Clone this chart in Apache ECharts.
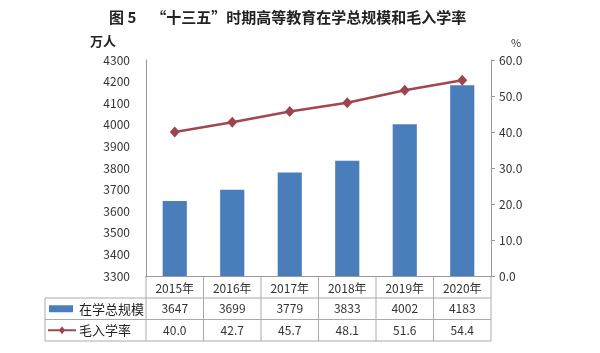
<!DOCTYPE html>
<html>
<head>
<meta charset="utf-8">
<script src="https://cdn.jsdelivr.net/npm/echarts@6/dist/echarts.min.js"></script>
<style>
  html, body { margin: 0; padding: 0; background: #fff; }
  #chart { width: 600px; height: 353px; }
</style>
</head>
<body>
<div id="chart"></div>
<script>
const years = ['2015年', '2016年', '2017年', '2018年', '2019年', '2020年']
const enrollment = [3647, 3699, 3779, 3833, 4002, 4183]
const grossRate = [40.0, 42.7, 45.7, 48.1, 51.6, 54.4]
const barName = '在学总规模'
const lineName = '毛入学率'

const barColor = '#4a7ebb'
const lineColor = '#a3474f'
const font = '"Noto Sans CJK SC", "Liberation Sans", sans-serif'

const chart = echarts.init(document.getElementById('chart'))

chart.setOption({
  animation: false,
  title: {
    text: '图 5　“十三五”时期高等教育在学总规模和毛入学率',
    left: 104,
    top: 5,
    textStyle: { fontSize: 15, fontWeight: 'bold', color: '#222', fontFamily: font }
  },
  grid: { left: 146, right: 109, top: 60, bottom: 77 },
  xAxis: {
    type: 'category',
    data: years,
    axisLine: { lineStyle: { color: '#999' } },
    axisTick: { show: false },
    axisLabel: { color: '#333', fontSize: 12, margin: 6, fontFamily: font }
  },
  yAxis: [
    {
      type: 'value',
      name: '万人',
      nameLocation: 'end',
      nameGap: 12,
      nameTextStyle: { color: '#222', fontSize: 13, fontWeight: 'bold', fontFamily: font, align: 'right', padding: [0, 30, 0, 0] },
      min: 3300,
      max: 4300,
      interval: 100,
      splitLine: { show: false },
      axisLine: { show: true, lineStyle: { color: '#999' } },
      axisTick: { show: false },
      axisLabel: { color: '#333', fontSize: 12, margin: 16, fontFamily: font, formatter: v => String(v) }
    },
    {
      type: 'value',
      name: '%',
      nameLocation: 'end',
      nameGap: 12,
      nameTextStyle: { color: '#333', fontSize: 11, fontFamily: font, align: 'left', padding: [0, 0, 0, 20] },
      min: 0,
      max: 60,
      interval: 10,
      splitLine: { show: false },
      axisLine: { show: true, lineStyle: { color: '#999' } },
      axisTick: { show: true, length: 4, lineStyle: { color: '#999' } },
      axisLabel: { color: '#333', fontSize: 12, margin: 8, fontFamily: font, formatter: v => v.toFixed(1) }
    }
  ],
  series: [
    {
      name: barName,
      type: 'bar',
      data: enrollment,
      barWidth: '42%',
      itemStyle: { color: barColor }
    },
    {
      name: lineName,
      type: 'line',
      yAxisIndex: 1,
      data: grossRate,
      symbol: 'diamond',
      symbolSize: [10, 11],
      lineStyle: { color: lineColor, width: 2.5 },
      itemStyle: { color: '#9b4552' }
    }
  ]
})

// data table under the plot, drawn from the same arrays
function drawTable () {
  const x0 = chart.convertToPixel({ xAxisIndex: 0 }, years[0])
  const x1 = chart.convertToPixel({ xAxisIndex: 0 }, years[1])
  const colW = x1 - x0
  const plotLeft = x0 - colW / 2
  const plotRight = plotLeft + colW * years.length
  const axisY = chart.convertToPixel({ yAxisIndex: 0 }, 3300)
  const tableLeft = 45
  const rowH = 21.5
  const r1 = axisY + 22
  const r2 = r1 + rowH
  const r3 = r2 + rowH
  const lineStyle = { stroke: '#aaa', lineWidth: 1 }
  const els = []
  const hline = (xa, xb, y) => els.push({ type: 'line', shape: { x1: xa, y1: y, x2: xb, y2: y }, style: lineStyle, silent: true })
  const vline = (x, ya, yb) => els.push({ type: 'line', shape: { x1: x, y1: ya, x2: x, y2: yb }, style: lineStyle, silent: true })

  hline(tableLeft, plotRight, r1)
  hline(tableLeft, plotRight, r2)
  hline(tableLeft, plotRight, r3)
  vline(tableLeft, r1, r3)
  for (let i = 0; i <= years.length; i++) {
    vline(plotLeft + colW * i, axisY, r3)
  }

  const cellText = (x, y, text) => els.push({
    type: 'text', x: x, y: y, silent: true,
    style: { text: text, fill: '#333', font: '12px ' + font, align: 'center', verticalAlign: 'middle' }
  })
  years.forEach((yr, i) => {
    const cx = chart.convertToPixel({ xAxisIndex: 0 }, yr)
    cellText(cx, (r1 + r2) / 2, String(enrollment[i]))
    cellText(cx, (r2 + r3) / 2, grossRate[i].toFixed(1))
  })

  // legend keys
  const m1 = (r1 + r2) / 2
  const m2 = (r2 + r3) / 2
  els.push({ type: 'rect', shape: { x: 49, y: m1 - 3.5, width: 24, height: 7 }, style: { fill: barColor }, silent: true })
  els.push({ type: 'text', x: 79, y: m1, silent: true, style: { text: barName, fill: '#222', font: '13px ' + font, verticalAlign: 'middle' } })
  els.push({ type: 'line', shape: { x1: 48, y1: m2, x2: 76, y2: m2 }, style: { stroke: lineColor, lineWidth: 2 }, silent: true })
  els.push({ type: 'polygon', shape: { points: [[62, m2 - 4], [65, m2], [62, m2 + 4], [59, m2]] }, style: { fill: '#9b4552' }, silent: true })
  els.push({ type: 'text', x: 79, y: m2, silent: true, style: { text: lineName, fill: '#222', font: '13px ' + font, verticalAlign: 'middle' } })

  chart.setOption({ graphic: { elements: els } })
}
drawTable()
</script>
</body>
</html>
